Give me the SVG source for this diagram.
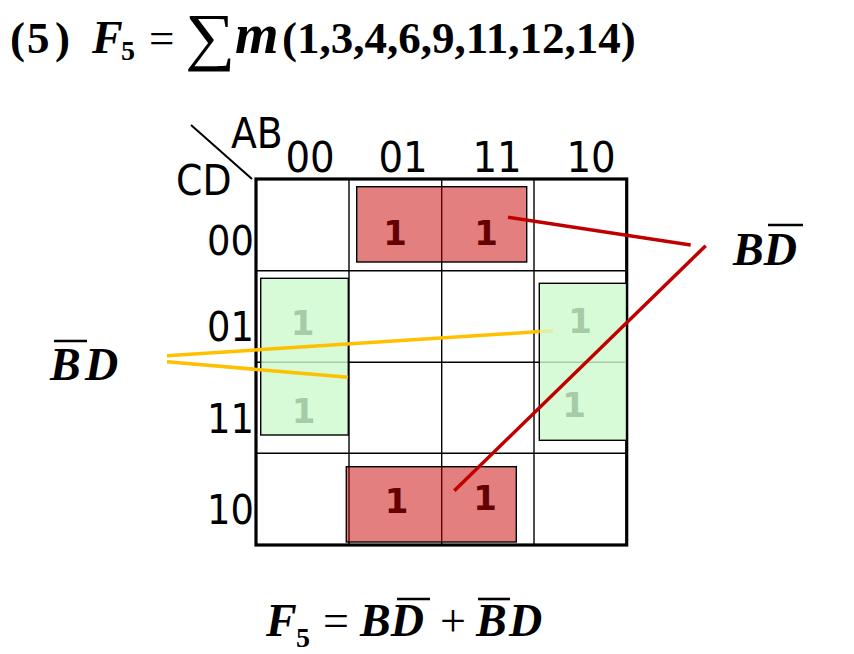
<svg xmlns="http://www.w3.org/2000/svg" width="854" height="654" viewBox="0 0 854 654">
<style>
.serif{font-family:"Liberation Serif","Times New Roman",serif;font-weight:bold;fill:#000}
.it{font-style:italic}
.nw{font-weight:normal}
.sans{font-family:"DejaVu Sans Condensed","DejaVu Sans",sans-serif;font-stretch:condensed;fill:#000;font-size:41px}
.grid{stroke:#000;stroke-width:1.4;fill:none}
.red{fill:rgb(200,0,0);fill-opacity:0.5;stroke:#000;stroke-width:1.4}
.green{fill:rgb(205,250,205);fill-opacity:0.82;stroke:#000;stroke-width:1.4}
.one{font-family:"DejaVu Sans","Verdana",sans-serif;font-weight:bold;font-size:34px;text-anchor:middle}
.r1{fill:#640000}
.g1{fill:#A6CBA6}
.ov{stroke:#000;stroke-width:2.6}
.yl{stroke:#FFC000;stroke-width:3.5;fill:none}
.rl{stroke:#C00000;stroke-width:3.5;fill:none}
</style>
<rect width="854" height="654" fill="#fff"/>
<g id="title">
<text class="serif" font-size="45" y="53"><tspan x="10">(</tspan><tspan x="27">5</tspan><tspan x="55">)</tspan></text>
<text class="serif it" font-size="46" x="92" y="53">F</text>
<text class="serif" font-size="28" x="121" y="60">5</text>
<text class="serif nw" font-size="45" x="149" y="53">=</text>
<text class="serif nw" font-size="64" x="185" y="58" transform="translate(185,58) scale(1.1,1) translate(-185,-58)">∑</text>
<text class="serif it" font-size="56" x="235" y="53">m</text>
<text class="serif" font-size="45" x="282" y="53">(1,3,4,6,9,11,12,14)</text>
</g>
<g id="kmap">
<line class="grid" x1="349" y1="179" x2="349" y2="545"/>
<line class="grid" x1="441.7" y1="179" x2="441.7" y2="545"/>
<line class="grid" x1="534" y1="179" x2="534" y2="545"/>
<line class="grid" x1="256" y1="270.7" x2="627" y2="270.7"/>
<line class="grid" x1="256" y1="362.3" x2="627" y2="362.3"/>
<line class="grid" x1="256" y1="453.3" x2="627" y2="453.3"/>
<rect x="256" y="179" width="370.7" height="366" fill="none" stroke="#000" stroke-width="3.2"/>
<line x1="191" y1="125" x2="252" y2="179" stroke="#000" stroke-width="2"/>
<text class="sans" x="231" y="148" style="font-size:42px">AB</text>
<text class="sans" x="176" y="195" style="font-size:42px">CD</text>
<g text-anchor="middle">
<text class="sans" x="310" y="172" style="font-size:43px">00</text>
<text class="sans" x="403" y="172" style="font-size:43px">01</text>
<text class="sans" x="497" y="172" style="font-size:43px">11</text>
<text class="sans" x="591" y="172" style="font-size:43px">10</text>
</g>
<g text-anchor="end">
<text class="sans" x="254" y="255">00</text>
<text class="sans" x="254" y="341">01</text>
<text class="sans" x="254" y="433">11</text>
<text class="sans" x="254" y="524">10</text>
</g>
</g>
<g id="group-B-notD-top">
<rect class="red" x="356.7" y="186.7" width="170" height="75.3"/>
<text class="one r1" x="395" y="245">1</text>
<text class="one r1" x="486" y="245">1</text>
</g>
<g id="group-B-notD-bottom">
<rect class="red" x="346.3" y="466.7" width="170" height="75.3"/>
<text class="one r1" x="396.5" y="513">1</text>
<text class="one r1" x="485" y="510">1</text>
</g>
<g id="group-notB-D-left">
<rect class="green" x="260.7" y="278.3" width="87.6" height="156.7"/>
<text class="one g1" x="302.5" y="335">1</text>
<text class="one g1" x="303.5" y="423">1</text>
</g>
<g id="group-notB-D-right">
<rect class="green" x="539.3" y="283.3" width="87.4" height="157"/>
<text class="one g1" x="580" y="333">1</text>
<text class="one g1" x="574" y="417">1</text>
</g>
<g id="connectors">
<line class="yl" x1="167" y1="355.7" x2="539.5" y2="331.6"/>
<line x1="539.5" y1="331.6" x2="553" y2="330.7" stroke="#E4EDA0" stroke-width="3.5"/>
<line class="yl" x1="167" y1="361.7" x2="348" y2="377.3"/>
<line class="rl" x1="508" y1="217.3" x2="690.7" y2="245"/>
<line class="rl" x1="705.7" y1="245.7" x2="454.3" y2="490.7"/>
</g>
<g id="label-BnotD">
<text class="serif it" font-size="46" x="733" y="265">BD</text>
<line class="ov" x1="768" y1="225" x2="803" y2="225"/>
</g>
<g id="label-notBD">
<text class="serif it" font-size="46" x="50" y="380">B</text>
<text class="serif it" font-size="46" x="85" y="380">D</text>
<line class="ov" x1="54" y1="341" x2="87" y2="341"/>
</g>
<g id="equation">
<text class="serif it" font-size="46" x="266" y="636">F</text>
<text class="serif" font-size="28" x="296" y="647">5</text>
<text class="serif nw" font-size="46" x="323" y="636">=</text>
<text class="serif it" font-size="46" x="360" y="636">BD</text>
<line class="ov" x1="397" y1="599" x2="430" y2="599"/>
<text class="serif nw" font-size="46" x="440" y="636">+</text>
<text class="serif it" font-size="46" x="476" y="636">B</text>
<text class="serif it" font-size="46" x="509" y="636">D</text>
<line class="ov" x1="478" y1="599" x2="510" y2="599"/>
</g>
</svg>
